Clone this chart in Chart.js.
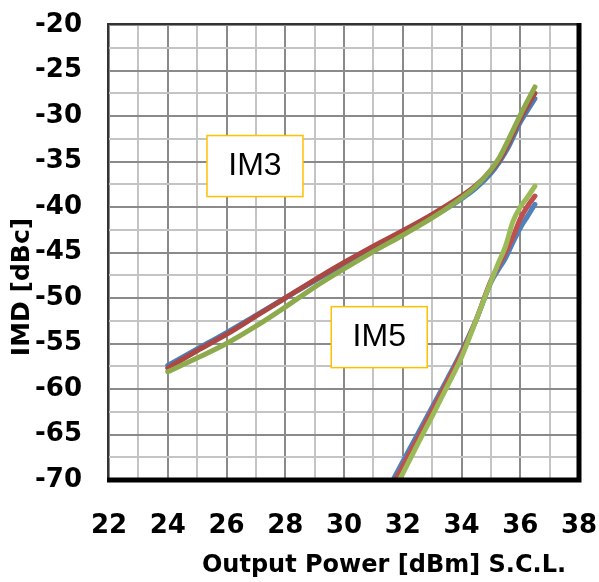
<!DOCTYPE html>
<html>
<head>
<meta charset="utf-8">
<title>IMD vs Output Power</title>
<script src="https://cdn.jsdelivr.net/npm/chart.js@4.4.1/dist/chart.umd.min.js"></script>
<style>
  html, body { margin: 0; padding: 0; background: #fff; }
  #wrap { width: 599px; height: 582px; position: relative; }
</style>
</head>
<body>
<div id="wrap"><canvas id="imdChart"></canvas></div>
<script>
// IM3 traces, output power in dBm and level in dBc
const im3Power = [24, 25, 26, 27, 28, 29, 30, 31, 32, 33, 34, 34.5, 35, 35.3, 35.6, 36, 36.5];
const im3Blue  = [-57.4, -55.6, -53.8, -51.9, -50.0, -48.1, -46.3, -44.5, -42.9, -41.1, -39.1, -37.9, -36.3, -35.0, -33.4, -30.7, -28.1];
const im3Red   = [-57.7, -55.8, -54.0, -52.0, -50.0, -48.0, -46.1, -44.3, -42.6, -40.8, -38.8, -37.6, -36.0, -34.8, -33.0, -30.3, -27.5];
const im3Green = [-58.1, -56.6, -55.0, -53.1, -51.0, -48.8, -46.8, -44.9, -43.1, -41.2, -39.0, -37.7, -35.9, -34.5, -32.6, -29.9, -26.8];

// IM5 traces (they come up from below the -70 floor)
const im5Power = [31.5, 32, 32.5, 33, 33.5, 34, 34.5, 35, 35.25, 35.5, 35.75, 36, 36.25, 36.5];
const im5Blue  = [-71.0, -68.0, -65.0, -62.0, -59.0, -55.9, -52.4, -48.3, -46.9, -45.6, -43.9, -42.3, -41.0, -39.7];
const im5Red   = [-71.6, -68.5, -65.5, -62.4, -59.3, -56.1, -52.4, -48.1, -46.5, -45.0, -43.3, -41.3, -39.9, -38.8];
const im5Green = [-72.4, -69.3, -66.1, -63.0, -59.8, -56.5, -52.4, -48.2, -46.2, -44.3, -41.6, -40.0, -38.9, -37.7];

// labelled ticks
const xTickLabels = [22, 24, 26, 28, 30, 32, 34, 36, 38];
const yTickLabels = [-70, -65, -60, -55, -50, -45, -40, -35, -30, -25, -20];

const curveNames = ['IM3', 'IM5'];
const nameSpots = [{ x: 26.97, y: -35.5 }, { x: 31.2, y: -54.3 }];

const majorGrid = '#8a8a8a';
const minorGrid = '#c4c4c4';
const tickFont = { family: 'DejaVu Sans', size: 26, weight: 'bold' };

function pts(xs, ys) {
  return xs.map((x, i) => ({ x: x, y: ys[i] }));
}

function trace(xs, ys, color) {
  return {
    data: pts(xs, ys),
    borderColor: color,
    borderWidth: 5,
    pointRadius: 0,
    fill: false,
    cubicInterpolationMode: 'monotone',
    borderCapStyle: 'round',
    borderJoinStyle: 'round'
  };
}

// keep the plot box fixed: no extra room for overhanging tick labels
function fixBox(size, key) {
  return function (scale) {
    scale[key] = size;
    scale.paddingTop = 0;
    scale.paddingBottom = 0;
    scale.paddingLeft = 0;
    scale.paddingRight = 0;
  };
}

// frame, text boxes and axis titles
const decorations = {
  id: 'decorations',
  afterDatasetsDraw(chart) {
    const { ctx, chartArea: a, scales } = chart;
    ctx.save();

    // thin dark edge top/left
    ctx.strokeStyle = '#333';
    ctx.lineWidth = 2;
    ctx.beginPath();
    ctx.moveTo(a.left - 1, a.bottom);
    ctx.lineTo(a.left - 1, a.top - 1);
    ctx.lineTo(a.right, a.top - 1);
    ctx.stroke();

    // heavy edge right/bottom
    ctx.strokeStyle = '#000';
    ctx.lineWidth = 5;
    ctx.beginPath();
    ctx.moveTo(a.right, a.top - 2);
    ctx.lineTo(a.right, a.bottom);
    ctx.lineTo(a.left - 2, a.bottom);
    ctx.stroke();

    // IM3 / IM5 boxes
    ctx.font = '32px "Liberation Sans"';
    ctx.textAlign = 'center';
    ctx.textBaseline = 'middle';
    curveNames.forEach((name, i) => {
      const cx = scales.x.getPixelForValue(nameSpots[i].x);
      const cy = scales.y.getPixelForValue(nameSpots[i].y);
      const w = 96, h = 61;
      ctx.fillStyle = '#fff';
      ctx.fillRect(cx - w / 2, cy - h / 2, w, h);
      ctx.strokeStyle = '#FFC000';
      ctx.lineWidth = 1.5;
      ctx.strokeRect(cx - w / 2, cy - h / 2, w, h);
      ctx.fillStyle = '#000';
      ctx.fillText(name, cx, cy);
    });

    // axis titles
    ctx.font = 'bold 24px "DejaVu Sans"';
    ctx.fillText('Output Power [dBm] S.C.L.', a.right - 195, chart.height - 16);
    ctx.translate(22, a.top + 262);
    ctx.rotate(-Math.PI / 2);
    ctx.font = 'bold 25px "DejaVu Sans"';
    ctx.fillText('IMD [dBc]', 0, 0);

    ctx.restore();
  }
};

const ctx = document.getElementById('imdChart').getContext('2d');

new Chart(ctx, {
  type: 'line',
  data: {
    // first in the list is painted last (on top)
    datasets: [
      trace(im5Power, im5Green, '#9BBB59'),
      trace(im5Power, im5Red, '#C0504D'),
      trace(im5Power, im5Blue, '#4F81BD'),
      trace(im3Power, im3Green, '#8DAB4C'),
      trace(im3Power, im3Red, '#AC4843'),
      trace(im3Power, im3Blue, '#4A7EBB')
    ]
  },
  options: {
    responsive: true,
    maintainAspectRatio: false,
    animation: false,
    layout: { padding: { top: 25, right: 20, left: 0, bottom: 0 } },
    plugins: {
      legend: { display: false },
      tooltip: { enabled: false }
    },
    scales: {
      x: {
        type: 'linear',
        min: 22,
        max: 38,
        border: { display: false },
        grid: {
          drawTicks: false,
          lineWidth: 2,
          color: c => (c.tick && c.tick.value % 2 === 0 ? majorGrid : minorGrid)
        },
        ticks: {
          stepSize: 1,
          autoSkip: false,
          maxRotation: 0,
          padding: 31,
          color: '#000',
          font: tickFont,
          callback: v => (xTickLabels.includes(v) ? String(v) : '')
        },
        afterFit: fixBox(102, 'height')
      },
      y: {
        min: -70,
        max: -20,
        border: { display: false },
        grid: {
          drawTicks: false,
          lineWidth: 2,
          color: c => (c.tick && c.tick.value % 5 === 0 ? majorGrid : minorGrid)
        },
        ticks: {
          stepSize: 2.5,
          autoSkip: false,
          padding: 27,
          color: '#000',
          font: tickFont,
          callback: v => (yTickLabels.includes(v) ? String(v) : '')
        },
        afterFit: fixBox(109, 'width')
      }
    }
  },
  plugins: [decorations]
});
</script>
</body>
</html>
